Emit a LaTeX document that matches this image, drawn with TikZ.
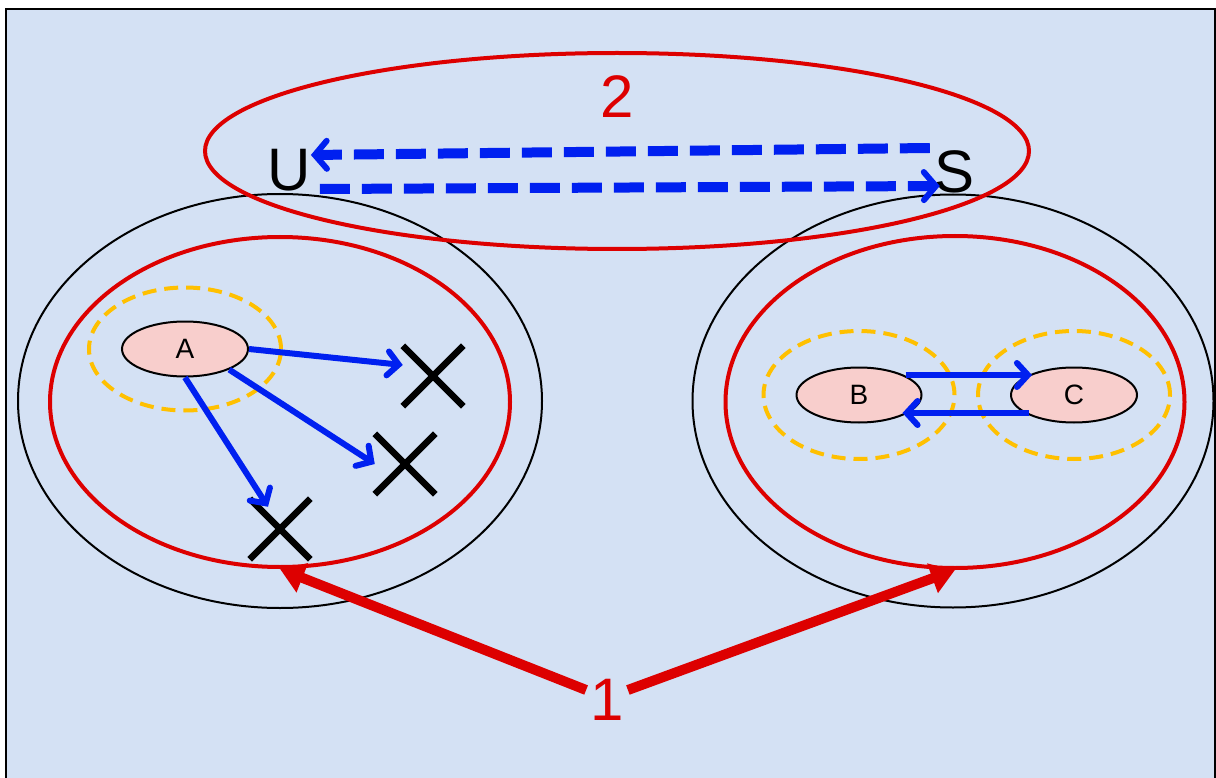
\documentclass[tikz,border=0pt]{standalone}
\usepackage{fontspec}
\setmainfont{Liberation Sans}
\usetikzlibrary{shapes.geometric,shapes.misc,arrows.meta}
\definecolor{bgblue}{RGB}{212,225,244}
\definecolor{myred}{RGB}{221,0,0}
\definecolor{myblue}{RGB}{0,32,240}
\definecolor{myorange}{RGB}{255,192,0}
\definecolor{mypink}{RGB}{248,206,204}
\tikzset{
  outerell/.style={draw=black, line width=2pt, ellipse, inner sep=0pt},
  redell/.style={draw=myred, line width=4pt, ellipse, inner sep=0pt},
  dashell/.style={draw=myorange, line width=4pt, ellipse, inner sep=0pt, dash pattern=on 14pt off 8pt},
  statenode/.style={draw=black, line width=2pt, fill=mypink, ellipse, inner sep=0pt,
     minimum width=126pt, minimum height=55pt, font=\fontsize{28}{32}\selectfont},
  xmark/.style={cross out, draw=black, line width=6.5pt, minimum width=54pt, minimum height=54pt, inner sep=0pt},
  bluearrow/.style={draw=myblue, line width=6pt, -{Straight Barb[length=11pt,width=24pt,line cap=round]}},
  dasharrow/.style={draw=myblue, line width=10pt, dash pattern=on 30pt off 12pt,
     -{Straight Barb[line width=6pt,length=12pt,width=28pt,line cap=round]}},
  redarrow/.style={draw=myred, line width=10pt, -{Triangle[length=24pt,width=30pt]}},
  bigtext/.style={inner sep=0pt, font=\fontsize{60}{62}\selectfont},
}
\begin{document}
\begin{tikzpicture}[x=1pt,y=-1pt]
\useasboundingbox (0,0) rectangle (1216,778);
\clip (0,0) rectangle (1216,778);
\draw[line width=2pt, fill=bgblue] (6,9) rectangle (1215,800);

% outer black ellipses
\node[outerell, minimum width=524pt, minimum height=414pt] (outL) at (280,401) {};
\node[outerell, minimum width=521pt, minimum height=413pt] (outR) at (953,401) {};

% red ellipses
\node[redell, minimum width=460pt, minimum height=330pt] (redL) at (280,402) {};
\node[redell, minimum width=459pt, minimum height=332pt] (redR) at (955,402) {};
\node[redell, minimum width=824pt, minimum height=196pt] (redT) at (617,151) {};

% dashed orange ellipses
\node[dashell, minimum width=192pt, minimum height=123pt] (dA) at (185,349) {};
\node[dashell, minimum width=191pt, minimum height=128pt] (dB) at (859,395) {};
\node[dashell, minimum width=192pt, minimum height=128pt] (dC) at (1074,395) {};

% state nodes
\node[statenode] (A) at (185,349) {A};
\node[statenode, minimum width=125pt] (B) at (859,395) {B};
\node[statenode] (C) at (1074,395) {C};

% crosses
\node[xmark] (x1) at (433,376) {};
\node[xmark] (x2) at (405,464) {};
\node[xmark] (x3) at (280,529) {};

% arrows from A
\draw[bluearrow] (A.east) -- ([yshift=11pt]x1.west);
\draw[bluearrow] (A.-25) -- (x2.west);
\draw[bluearrow] (A.south) -- ([xshift=-12pt,yshift=-8pt]x3.north);

% B <-> C
\draw[bluearrow] ([xshift=-17pt,yshift=20pt]B.east) -- ([xshift=22pt,yshift=20pt]C.west);
\draw[bluearrow] ([xshift=19pt,yshift=-18pt]C.west) -- ([xshift=-20pt,yshift=-18pt]B.east);

% U and S
\node[bigtext] (U) at (289,170) {U};
\node[bigtext] (S) at (955,172) {S};
\draw[dasharrow] ([xshift=-5pt,yshift=24pt]S.west) -- ([yshift=15pt]U.east);
\draw[dasharrow] ([xshift=9pt,yshift=-19pt]U.east) -- ([xshift=5pt,yshift=-14pt]S.west);

% labels
\node[bigtext, text=myred] (n2) at (617,97) {2};
\node[bigtext, text=myred] (n1) at (607,700) {1};
\draw[redarrow] ([xshift=-4pt,yshift=10pt]n1.west) -- (redL.south);
\draw[redarrow] ([xshift=4pt,yshift=10pt]n1.east) -- (redR.south);
\end{tikzpicture}
\end{document}
